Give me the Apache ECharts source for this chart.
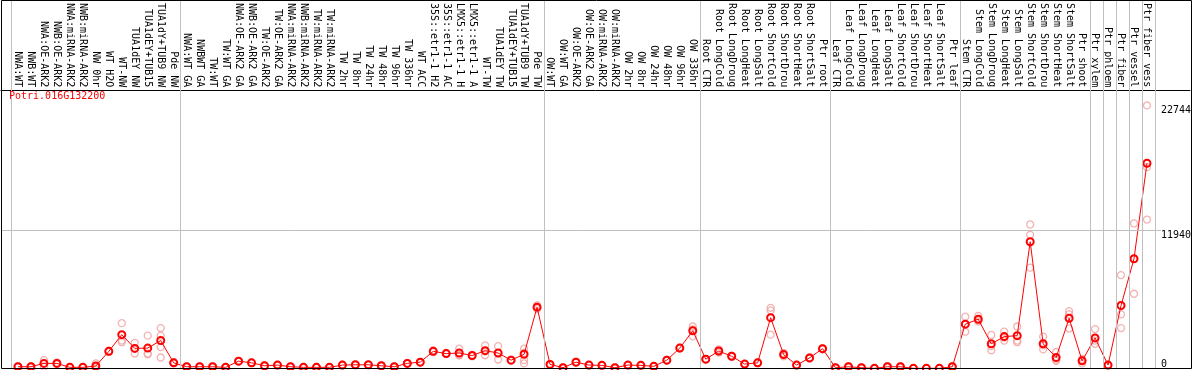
<!DOCTYPE html>
<html><head><meta charset="utf-8">
<script src="https://cdn.jsdelivr.net/npm/echarts@6/dist/echarts.min.js"></script>
<style>html,body{margin:0;padding:0;background:#fff}#c{width:1194px;height:370px}</style>
</head><body><div id="c"></div>
<script>
const chartTitle = 'Potri.016G132200';

const categories = [
  'NWA:WT','NWB:WT','NWA:OE-ARK2','NWB:OE-ARK2','NWA:miRNA-ARK2','NWB:miRNA-ARK2','NW 0hr','WT H2O','WT-NW','TUA1dEY NW','TUA1dEY+TUB15','TUA1dY+TUB9 NW','Pde NW',
  'NWA:WT GA','NWBWT GA','TW:WT','TW:WT GA','NWA:OE-ARK2 GA','NWB:OE-ARK2 GA','TW:OE-ARK2','TW:OE-ARK2 GA','NWA:miRNA-ARK2','NWB:miRNA-ARK2','TW:miRNA-ARK2','TW:miRNA-ARK2',
  'TW 2hr','TW 8hr','TW 24hr','TW 48hr','TW 96hr','TW 336hr','WT ACC','35S::etr1-1 H2','35S::etr1-1 AC','LMX5::etr1-1 H','LMX5::etr1-1 A','WT-TW','TUA1dEY TW','TUA1dEY+TUB15','TUA1dY+TUB9 TW','Pde TW',
  'OW:WT','OW:WT GA','OW:OE-ARK2','OW:OE-ARK2 GA','OW:miRNA-ARK2','OW:miRNA-ARK2','OW 2hr','OW 8hr','OW 24hr','OW 48hr','OW 96hr','OW 336hr',
  'Root CTR','Root LongCold','Root LongDroug','Root LongHeat','Root LongSalt','Root ShortCold','Root ShortDrou','Root ShortHeat','Root ShortSalt','Ptr root',
  'Leaf CTR','Leaf LongCold','Leaf LongDroug','Leaf LongHeat','Leaf LongSalt','Leaf ShortCold','Leaf ShortDrou','Leaf ShortHeat','Leaf ShortSalt','Ptr leaf',
  'Stem CTR','Stem LongCold','Stem LongDroug','Stem LongHeat','Stem LongSalt','Stem ShortCold','Stem ShortDrou','Stem ShortHeat','Stem ShortSalt','Ptr shoot',
  'Ptr xylem','Ptr phloem','Ptr fiber','Ptr vessel','Ptr fiber vess'
];

const groupSizes = [13, 28, 12, 10, 10, 10, 1, 1, 1, 1, 1];

const meanValues = [
  195,195,483,483,144,144,254,1524,2964,1778,1804,2456,533,
  195,195,195,144,677,533,279,339,195,144,144,144,339,364,364,279,195,483,593,1524,1329,1380,1160,1583,1380,762,1270,5335,
  398,110,593,339,313,110,339,313,229,762,1804,3303,
  847,1550,1100,423,533,4429,1245,339,957,1753,
  110,195,110,59,195,195,59,59,59,195,
  3870,4293,2176,2794,2879,10983,2176,991,4378,703,
  2684,339,5479,9510,17757
];

const rep1 = [
  195,195,762,560,144,144,483,1580,3955,2261,2879,3531,600,
  195,195,195,144,700,560,279,339,195,144,144,144,339,380,380,279,195,483,600,1600,1380,1753,1160,2032,1973,762,1753,5500,
  398,110,640,380,360,110,360,360,229,800,1804,3667,
  880,1700,1150,423,560,5276,1400,339,1000,1800,
  110,240,110,59,240,240,59,59,59,240,
  4513,4573,2938,3218,3667,12473,2794,1465,4996,483,
  3446,339,8104,12558,22744
];
const rep2 = [
  150,150,195,420,110,110,144,1470,2456,1329,1270,2879,480,
  160,160,160,110,650,500,250,300,160,110,110,110,300,340,340,250,160,440,560,1450,1280,1185,1100,1185,821,720,1400,5335,
  360,80,560,300,280,80,300,280,200,720,1760,2820,
  820,1420,1050,400,500,5055,1100,300,900,1700,
  80,150,80,40,150,150,40,40,40,150,
  3218,4090,1609,2456,2312,11576,1694,703,3497,760,
  2176,300,4717,6495,17418
];
const rep3 = [
  240,240,490,470,180,180,140,1520,2312,1778,1330,1889,520,
  230,230,230,180,680,540,300,370,230,180,180,180,370,360,360,300,230,520,620,1520,1330,1200,1220,1530,1350,800,762,5170,
  430,140,580,340,300,140,340,300,250,760,1850,3420,
  840,1530,1100,450,540,2964,1240,380,970,1760,
  140,200,140,80,200,200,80,80,80,200,
  3870,4215,1980,2710,2456,8747,2040,805,4717,866,
  2456,380,3531,9477,12897
];
const rep4 = [
  null,null,null,null,null,null,null,null,null,null,null,991,null,
  null,null,null,null,null,null,null,null,null,null,null,null,null,null,null,null,null,null,null,null,null,null,null,null,null,null,483,null,
  null,null,null,null,null,null,null,null,null,null,null,null,
  null,null,null,null,null,null,null,null,null,null,
  null,null,null,null,null,null,null,null,null,null,
  null,null,null,null,null,null,null,null,null,null,
  null,null,null,null,null
];

const yTopLabels = [11940, 22744];
const yZeroLabel = [0];
const gridLineValue = 11940;

// layout constants
const xMin = -1.3077, xMax = 90.3077, yMax = 24050, gridLineEnd = 88.077;
const mono = '"DejaVu Sans Mono", "Liberation Mono", monospace';

const idx = categories.map((_, i) => i);
const boundaries = [-0.5];
let acc = -0.5;
groupSizes.forEach(s => { acc += s; boundaries.push(acc); });
const repData = [];
[rep1, rep2, rep3, rep4].forEach(r => r.forEach((v, i) => { if (v != null) repData.push([i, v]); }));
const meanData = meanValues.map((v, i) => [i, v]);

const chart = echarts.init(document.getElementById('c'), null, { renderer: 'canvas' });
const yLabelBase = { inside: true, margin: 29, align: 'left', fontFamily: mono, fontSize: 10, color: '#000',
  formatter: v => String(v) };
chart.setOption({
  animation: false,
  backgroundColor: '#fff',
  title: { text: chartTitle, left: 9, top: 91, padding: 0,
    textStyle: { fontFamily: mono, fontSize: 10, fontWeight: 'normal', color: '#ff0000' } },
  grid: [
    { left: 1, right: 2, top: 85, bottom: 1 },
    { left: 1, right: 2, top: 0, bottom: 1 }
  ],
  xAxis: [
    { gridIndex: 0, type: 'value', position: 'top', min: xMin, max: xMax,
      axisLine: { show: true, onZero: false, lineStyle: { color: '#000', width: 1 } },
      axisTick: { show: false }, splitLine: { show: false },
      axisLabel: { customValues: idx, formatter: v => categories[v], rotate: 90, margin: 3,
        fontFamily: mono, fontSize: 10, color: '#000' } },
    { gridIndex: 1, type: 'value', min: xMin, max: xMax, show: false }
  ],
  yAxis: [
    { gridIndex: 0, type: 'value', position: 'right', min: 0, max: yMax,
      axisLine: { show: false }, axisTick: { show: false }, splitLine: { show: false },
      axisLabel: Object.assign({ customValues: yTopLabels, verticalAlign: 'top' }, yLabelBase) },
    { gridIndex: 0, type: 'value', position: 'right', min: 0, max: yMax,
      axisLine: { show: false }, axisTick: { show: false }, splitLine: { show: false },
      axisLabel: Object.assign({ customValues: yZeroLabel, verticalAlign: 'bottom' }, yLabelBase) },
    { gridIndex: 1, type: 'value', min: 0, max: 1, show: false }
  ],
  series: [
    { type: 'line', xAxisIndex: 1, yAxisIndex: 2, data: [], z: 1, silent: true,
      markLine: { silent: true, symbol: ['none', 'none'], label: { show: false },
        lineStyle: { color: '#c0c0c0', width: 1, type: 'solid' },
        data: boundaries.map(b => ({ xAxis: b })) } },
    { type: 'scatter', xAxisIndex: 0, yAxisIndex: 0, data: repData, z: 2, symbol: 'circle', symbolSize: 7,
      itemStyle: { color: 'rgba(0,0,0,0)', borderColor: '#f0a0a0', borderWidth: 1.3 } },
    { type: 'line', xAxisIndex: 0, yAxisIndex: 0, data: meanData, z: 3, symbol: 'circle', symbolSize: 7,
      showAllSymbol: true,
      lineStyle: { color: '#ff0000', width: 1 },
      itemStyle: { color: 'rgba(0,0,0,0)', borderColor: '#ff0000', borderWidth: 2 },
      markLine: { silent: true, symbol: ['none', 'none'], label: { show: false },
        lineStyle: { color: '#c0c0c0', width: 1, type: 'solid' },
        data: [[{ coord: [xMin, gridLineValue] }, { coord: [gridLineEnd, gridLineValue] }]] } }
  ],
  graphic: [
    { type: 'rect', silent: true, z: 100,
      shape: { x: 1.5, y: 0.5, width: 1190, height: 368 },
      style: { fill: null, stroke: '#000', lineWidth: 1 } }
  ]
});
</script>
</body></html>
